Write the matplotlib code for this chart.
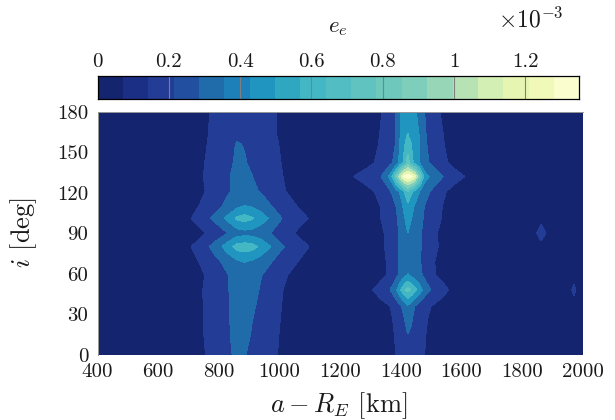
#!/usr/bin/env python3
import numpy as np
import matplotlib
matplotlib.use("Agg")
import matplotlib.pyplot as plt
from matplotlib.colors import ListedColormap, BoundaryNorm

plt.rcParams['font.family'] = ['cmr10', 'DejaVu Serif']
plt.rcParams['mathtext.fontset'] = 'cm'
plt.rcParams['axes.formatter.use_mathtext'] = True
plt.rcParams['axes.unicode_minus'] = False

W, H = 615, 420
TEXT_COLOR = '#1a1a1a'

# inclination rows, bottom to top
i_deg = [0, 16, 27, 36, 48, 59, 69, 80, 90, 101, 110, 121, 132, 142, 156, 162, 180]

# e_e / 1e-3
background = 0.05

a_left = [700, 750, 790, 830, 860, 885, 910, 940, 975, 1015, 1055, 1095]
z_left = [
    [.06, .13, .20, .26, .31, .29, .26, .23, .175, .10, .06, .05],
    [.07, .14, .21, .27, .32, .33, .27, .24, .185, .11, .06, .05],
    [.07, .142, .21, .27, .33, .34, .287, .25, .19, .12, .07, .05],
    [.07, .143, .21, .27, .33, .35, .30, .255, .20, .125, .07, .05],
    [.07, .145, .21, .275, .34, .36, .32, .27, .21, .135, .08, .05],
    [.07, .135, .20, .28, .35, .38, .34, .287, .24, .16, .10, .05],
    [.08, .17, .25, .33, .40, .43, .40, .35, .284, .21, .15, .09],
    [.12, .23, .34, .50, .62, .64, .62, .53, .41, .284, .21, .145],
    [.06, .125, .20, .284, .35, .37, .365, .33, .27, .20, .13, .07],
    [.12, .23, .32, .46, .59, .62, .58, .49, .39, .26, .20, .14],
    [.08, .17, .24, .32, .39, .43, .41, .36, .28, .20, .145, .09],
    [.07, .13, .21, .27, .31, .33, .31, .27, .22, .15, .09, .05],
    [.07, .142, .21, .27, .32, .31, .285, .25, .20, .135, .08, .05],
    [.06, .135, .20, .26, .30, .29, .27, .24, .19, .125, .07, .05],
    [.05, .12, .19, .25, .29, .28, .26, .23, .18, .11, .06, .05],
    [.05, .11, .19, .24, .27, .26, .25, .22, .17, .10, .06, .05],
    [.05, .10, .18, .22, .24, .25, .24, .22, .17, .10, .06, .05],
]

a_right = [1245, 1290, 1335, 1365, 1385, 1400, 1412, 1423, 1434, 1446, 1461, 1481, 1511, 1541, 1570, 1610]
z_right = [
    [.05, .05, .06, .09, .142, .20, .23, .25, .24, .22, .18, .135, .08, .05, .05, .05],
    [.05, .05, .07, .10, .16, .21, .26, .285, .27, .24, .19, .145, .09, .06, .05, .05],
    [.05, .05, .08, .12, .17, .23, .28, .34, .30, .25, .20, .155, .10, .06, .05, .05],
    [.05, .05, .10, .14, .20, .27, .33, .40, .35, .28, .22, .17, .125, .08, .05, .05],
    [.05, .10, .20, .28, .40, .56, .68, .75, .69, .61, .50, .34, .24, .18, .11, .05],
    [.05, .06, .10, .17, .25, .31, .38, .43, .39, .35, .31, .25, .15, .09, .05, .05],
    [.05, .06, .10, .17, .25, .31, .36, .40, .37, .34, .30, .22, .142, .08, .05, .05],
    [.05, .06, .115, .18, .25, .31, .36, .40, .37, .34, .30, .24, .17, .10, .06, .05],
    [.05, .06, .12, .18, .25, .31, .37, .425, .39, .36, .30, .25, .16, .10, .06, .05],
    [.05, .07, .142, .21, .26, .33, .41, .47, .43, .39, .32, .26, .19, .125, .07, .05],
    [.05, .07, .145, .22, .284, .37, .46, .52, .47, .41, .34, .27, .20, .13, .07, .05],
    [.05, .10, .18, .27, .37, .45, .57, .70, .60, .51, .43, .33, .24, .16, .10, .05],
    [.142, .21, .28, .46, .80, 1.10, 1.30, 1.35, 1.32, 1.18, .85, .47, .36, .28, .21, .142],
    [.05, .10, .18, .25, .33, .50, .60, .78, .62, .52, .43, .31, .24, .17, .11, .05],
    [.05, .08, .155, .23, .29, .45, .55, .62, .57, .51, .425, .295, .215, .145, .085, .05],
    [.05, .07, .15, .22, .284, .44, .53, .575, .54, .50, .42, .29, .21, .14, .08, .05],
    [.05, .06, .135, .21, .284, .42, .47, .50, .48, .45, .37, .27, .19, .11, .06, .05],
]

# two small isolated spots on the right
a_spots = [1838, 1863, 1888, 1954, 1971, 1988]
spot_90 = 0.26
spot_48 = 0.19

# colour bands of the bar, low to high
band_colors = ['#14246e', '#1b2f85', '#233c96', '#224f9f', '#206cab', '#1e80b8', '#1f95bf',
               '#30a7c1', '#44b7c4', '#53bdc4', '#60c3bf', '#6ec8bc', '#7dcebb', '#97d7b8',
               '#b7e2b4', '#d4efb3', '#e6f6b2', '#f1f9b9', '#fafdce']
e_max = 1.351

x_ticks = [400, 600, 800, 1000, 1200, 1400, 1600, 1800, 2000]
y_ticks = [0, 30, 60, 90, 120, 150, 180]
cb_ticks = [0, 0.2, 0.4, 0.6, 0.8, 1, 1.2]
cb_labels = ['0', '0.2', '0.4', '0.6', '0.8', '1', '1.2']

# assemble the grid
n_rows = len(i_deg)
z_spots = np.full((n_rows, len(a_spots)), background)
z_spots[i_deg.index(90), 1] = spot_90
z_spots[i_deg.index(48), 4] = spot_48


def bg(n):
    return np.full((n_rows, n), background)


a_km = np.concatenate([[400, 660], a_left, [1150], a_right, [1650], a_spots, [2000]])
Z = np.hstack([bg(2), np.array(z_left), bg(1), np.array(z_right), bg(1), z_spots, bg(1)])

# the map uses every second band of the bar
band_edges = np.linspace(0, e_max, len(band_colors) + 1)
map_levels = np.append(band_edges[::2], e_max)
map_colors = band_colors[::2]


def box(left, top, right, bottom):
    return [left / W, 1 - bottom / H, (right - left) / W, (bottom - top) / H]


fig = plt.figure(figsize=(W / 100, H / 100), dpi=100)
ax = fig.add_axes(box(97.5, 111.7, 582.7, 354.6))
cs = ax.contourf(a_km, i_deg, Z, levels=map_levels, colors=map_colors)
cs.set_edgecolor('face')
cs.set_linewidth(0.4)
ax.set_xlim(400, 2000)
ax.set_ylim(0, 180)
ax.set_xticks(x_ticks)
ax.set_xticklabels([str(t) for t in x_ticks])
ax.set_yticks(y_ticks)
ax.set_yticklabels([str(t) for t in y_ticks])
ax.tick_params(length=0, labelsize=15, labelcolor=TEXT_COLOR)
ax.tick_params(axis='x', pad=6)
ax.tick_params(axis='y', pad=6.5)
for side in ['left', 'top']:
    ax.spines[side].set_color('#999999')
    ax.spines[side].set_linewidth(0.7)
for side in ['right', 'bottom']:
    ax.spines[side].set_visible(False)

cax = fig.add_axes(box(97.5, 75.5, 579.3, 98.8))
cmap = ListedColormap(band_colors)
norm = BoundaryNorm(band_edges, cmap.N)
cax.pcolormesh(band_edges, [0, 1], np.array([band_edges[:-1] + 1e-6]), cmap=cmap, norm=norm)
cax.set_xlim(0, e_max)
cax.set_ylim(0, 1)
cax.set_yticks([])
cax.set_xticks(cb_ticks)
cax.set_xticklabels(cb_labels)
cax.xaxis.tick_top()
cax.tick_params(axis='x', length=0, labelsize=15, pad=3, labelcolor=TEXT_COLOR)
for t in cb_ticks[1:]:
    cax.axvline(t, color='#7f7f7f', linewidth=0.8)
for spine in cax.spines.values():
    spine.set_color('black')
    spine.set_linewidth(0.9)

fig.text(339 / W, 1 - 405.5 / H, r'$a - R_E$ [km]', fontsize=19, ha='center', va='center', color=TEXT_COLOR)
fig.text(24 / W, 1 - 233 / H, r'$i$ [deg]', fontsize=19, rotation=90, ha='center', va='center', color=TEXT_COLOR)
fig.text(338 / W, 1 - 28 / H, r'$e_e$', fontsize=16.5, ha='center', va='center', color=TEXT_COLOR)
fig.text(531 / W, 1 - 20 / H, r'$\times 10^{-3}$', fontsize=17, ha='center', va='center', color=TEXT_COLOR)

fig.savefig('out.png', dpi=100)
plt.close(fig)
